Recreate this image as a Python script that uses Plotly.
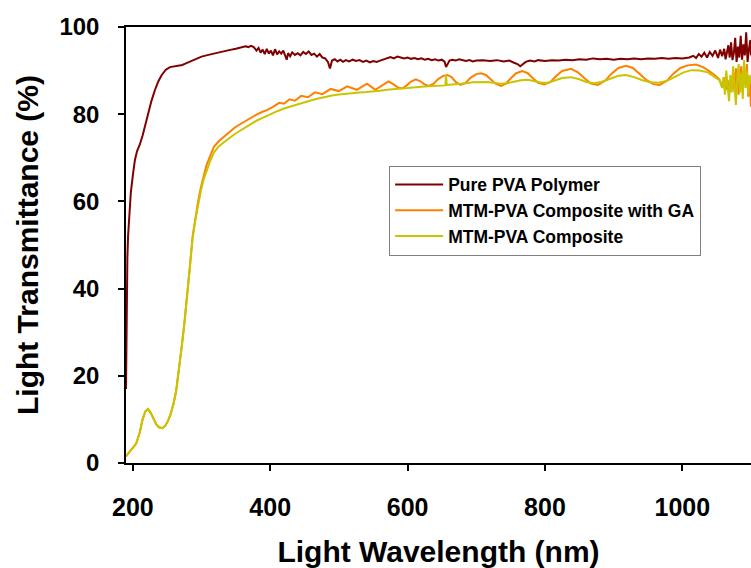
import plotly.graph_objects as go

# ---- Pure PVA polymer: wavelength (nm) and transmittance (%) ----
wl_pva = [190, 190.5, 191, 192, 193, 195, 197, 200, 203, 206, 210, 214, 218, 222, 227, 232, 237, 242,
          248, 254, 260, 266, 272, 278, 285, 292, 300, 310, 320, 330, 340, 350, 358, 364, 368, 372,
          376, 380, 383, 386, 389, 392, 395, 398, 401, 404, 407, 410, 413, 416, 419, 422, 424, 426,
          429, 432, 436, 440, 444, 448, 452, 456, 460, 464, 468, 472, 476, 480, 484, 487, 490, 494,
          498, 502, 506, 510, 515, 520, 525, 530, 535, 540, 545, 550, 555, 560, 565, 570, 575, 580,
          585, 590, 595, 600, 605, 610, 615, 620, 625, 630, 635, 640, 645, 650, 654, 656, 658, 661,
          665, 670, 675, 680, 685, 690, 695, 700, 710, 720, 730, 740, 748, 755, 760, 764, 768, 772,
          778, 785, 790, 800, 810, 820, 830, 840, 850, 860, 870, 880, 890, 900, 910, 920, 930, 940,
          950, 960, 970, 980, 990, 1000, 1010, 1016, 1020, 1024, 1028, 1032, 1036, 1040, 1044, 1048,
          1052, 1055, 1058, 1061, 1063, 1065, 1067, 1069, 1071, 1073, 1075, 1077, 1079, 1081, 1083,
          1085, 1087, 1089, 1091, 1093, 1095, 1097, 1099, 1100]
t_pva = [17, 30, 40, 47, 52, 57, 62, 66, 69.5, 71.5, 73, 75, 77.5, 80, 83, 85.5, 87.5, 89,
         90.2, 90.8, 91, 91.1, 91.3, 91.7, 92.2, 92.8, 93.2, 93.6, 94.0, 94.3, 94.7, 95.0, 95.3, 95.6, 95.4, 95.7,
         95.4, 94.6, 95.2, 94.1, 94.8, 93.8, 95.0, 93.9, 94.6, 93.5, 94.9, 93.7, 94.4, 93.9, 94.6, 93.2, 92.5, 94.0,
         93.3, 94.2, 93.6, 94.0, 93.5, 94.3, 93.8, 94.4, 93.6, 93.9, 93.2, 93.8, 93.0, 92.8, 92.0, 90.5, 92.3, 92.6,
         92.1, 92.5, 92.0, 92.4, 92.1, 92.5, 92.2, 92.4, 92.0, 92.3, 91.9, 92.2, 92.0, 92.3, 92.6, 92.9, 93.1, 92.8,
         93.2, 93.0, 92.8, 93.0, 92.7, 92.9, 92.6, 92.8, 92.5, 92.7, 92.4, 92.6, 92.3, 92.5, 92.0, 90.8, 91.5, 92.3,
         92.5, 92.3, 92.6, 92.4, 92.2, 92.4, 92.1, 92.3, 92.4, 92.2, 92.4, 92.1, 92.3, 91.8, 91.5, 91.0, 91.6, 92.0,
         92.3, 92.1, 92.4, 92.2, 92.4, 92.3, 92.5, 92.4, 92.6, 92.5, 92.8, 92.6, 92.7, 92.5, 92.7, 92.6, 92.8, 92.6,
         92.8, 92.7, 92.9, 92.7, 92.9, 92.8, 93.0, 93.4, 92.9, 93.8, 93.2, 94.1, 93.0, 94.3, 93.4, 94.6,
         92.9, 94.8, 93.3, 95.0, 92.6, 94.2, 95.8, 93.0, 96.5, 92.4, 94.0, 97.5, 92.0, 95.5, 93.0,
         98.0, 92.5, 96.0, 93.5, 98.8, 92.0, 95.0, 97.0, 93.5]

# ---- MTM-PVA composite with GA ----
wl_ga = [190, 195, 200, 205, 210, 214, 218, 222, 226, 230, 234, 238, 243, 247, 251, 255, 259, 263,
         267, 271, 275, 279, 283, 287, 291, 295, 299, 303, 307, 312, 318, 325, 332, 340, 348, 356,
         364, 372, 380, 388, 396, 404, 413, 420, 428, 436, 445, 455, 465, 476, 488, 500, 512, 526,
         541, 553, 563, 572, 578, 585, 592, 598, 605, 612, 618, 625, 631, 638, 645, 652, 658, 664,
         670, 677, 684, 692, 700, 707, 714, 721, 728, 736, 743, 750, 758, 767, 775, 782, 790, 799,
         808, 816, 825, 838, 848, 858, 867, 877, 887, 897, 907, 918, 928, 938, 948, 958, 967, 977,
         987, 997, 1008, 1020, 1030, 1038, 1047, 1054, 1058, 1061, 1063, 1066, 1068, 1070, 1072,
         1074, 1076, 1078, 1080, 1082, 1084, 1086, 1088, 1090, 1092, 1094, 1096, 1098, 1100]
t_ga = [1.5, 2.5, 3.5, 4.5, 7.0, 9.9, 11.8, 12.4, 11.5, 10.0, 8.9, 8.2, 8.0, 8.5, 9.6, 11.2, 13.5, 16.5,
        21.0, 26.5, 32.0, 38.0, 45.0, 52.0, 56.5, 60.0, 63.2, 66.0, 68.2, 70.2, 72.5, 73.8, 74.8, 75.9, 76.9, 77.7,
        78.5, 79.2, 79.9, 80.5, 81.0, 81.7, 82.6, 82.4, 83.4, 83.1, 84.2, 83.9, 85.0, 84.6, 85.8, 85.3, 86.4, 85.6,
        87.0, 85.6, 86.5, 87.5, 87.0, 86.2, 85.9, 86.5, 87.5, 88.0, 87.6, 86.8, 86.5, 87.0, 88.1, 88.8, 89.0, 88.5,
        87.4, 86.7, 87.1, 88.4, 89.2, 89.4, 89.0, 88.0, 87.0, 86.5, 87.0, 88.2, 89.4, 89.9, 89.4, 88.3, 87.2, 86.8,
        87.4, 88.7, 89.9, 90.4, 89.6, 88.2, 87.0, 86.7, 87.6, 89.3, 90.6, 91.1, 90.6, 89.2, 87.8, 86.9, 86.7, 87.6,
        89.3, 90.6, 91.2, 91.4, 90.8, 90.0, 89.0, 88.0, 86.5, 88.5, 85.5, 87.8, 84.4, 88.0, 86.0,
        89.5, 85.0, 90.5, 86.5, 84.5, 89.0, 91.0, 86.0, 90.0, 87.0, 91.5, 84.0, 88.5, 81.7]

# ---- MTM-PVA composite ----
wl_mtm = [190, 195, 200, 205, 210, 214, 218, 222, 226, 230, 234, 238, 243, 247, 251, 255, 259, 263,
          267, 271, 275, 279, 283, 287, 291, 295, 299, 303, 307, 312, 318, 325, 332, 340, 348, 356,
          364, 372, 380, 388, 396, 404, 412, 420, 430, 440, 450, 460, 470, 480, 490, 500, 510, 520,
          530, 540, 550, 560, 570, 580, 590, 600, 610, 620, 630, 640, 650, 655, 656, 657, 665, 675,
          685, 695, 705, 715, 725, 735, 745, 755, 765, 775, 785, 795, 805, 815, 825, 838, 850, 860,
          871, 882, 895, 907, 918, 930, 942, 953, 965, 977, 990, 1002, 1013, 1025, 1037, 1047, 1054,
          1058, 1060, 1062, 1064, 1066, 1068, 1070, 1072, 1074, 1076, 1078, 1080, 1082, 1084, 1086,
          1088, 1090, 1092, 1094, 1096, 1098, 1100]
t_mtm = [1.5, 2.5, 3.5, 4.5, 7.0, 9.9, 11.8, 12.4, 11.5, 10.0, 8.9, 8.2, 8.0, 8.5, 9.6, 11.2, 13.5, 16.5,
         21.0, 26.5, 32.0, 38.0, 45.0, 51.5, 55.8, 59.2, 62.4, 65.0, 67.0, 69.0, 71.2, 72.6, 73.5, 74.5, 75.4, 76.2,
         77.0, 77.8, 78.5, 79.1, 79.7, 80.3, 80.8, 81.3, 81.8, 82.3, 82.8, 83.2, 83.6, 84.0, 84.3, 84.5, 84.7, 84.9,
         85.0, 85.1, 85.2, 85.4, 85.6, 85.8, 85.9, 86.0, 86.2, 86.3, 86.4, 86.5, 86.6, 86.6, 89.0, 86.7, 86.8, 86.9,
         87.1, 87.3, 87.4, 87.4, 87.2, 87.0, 87.1, 87.4, 87.8, 87.9, 87.6, 87.2, 87.2, 87.7, 88.3, 88.5, 88.0, 87.4,
         87.1, 87.4, 88.2, 88.8, 89.0, 88.5, 87.8, 87.3, 87.2, 87.6, 88.6, 89.6, 90.1, 90.0, 89.6, 88.6, 87.8,
         86.0, 88.5, 84.5, 90.0, 86.5, 83.0, 89.0, 85.0, 91.0, 86.0, 82.1, 88.0, 91.5, 85.0, 89.5,
         83.5, 92.4, 86.0, 90.0, 84.5, 89.0, 87.0]

x_ticks = [200, 400, 600, 800, 1000]
y_ticks = [0, 20, 40, 60, 80, 100]

FONT = "Liberation Sans"

fig = go.Figure()
fig.add_trace(go.Scatter(x=wl_pva, y=t_pva, mode="lines", name="Pure PVA Polymer",
                         line=dict(color="#800000", width=2)))
fig.add_trace(go.Scatter(x=wl_ga, y=t_ga, mode="lines", name="MTM-PVA Composite with GA",
                         line=dict(color="#ff8000", width=2)))
fig.add_trace(go.Scatter(x=wl_mtm, y=t_mtm, mode="lines", name="MTM-PVA Composite",
                         line=dict(color="#c8c400", width=2)))

fig.update_layout(
    width=751, height=568,
    margin=dict(l=126, r=0, t=27, b=105),
    paper_bgcolor="white", plot_bgcolor="white",
    font=dict(family=FONT, color="black"),
    showlegend=True,
    legend=dict(
        x=0.421, y=0.682, xanchor="left", yanchor="top",
        bgcolor="white", bordercolor="#808080", borderwidth=1,
        font=dict(family=FONT, size=17.5, weight="bold", color="black"),
        tracegroupgap=0, itemwidth=48,
    ),
    xaxis=dict(
        range=[190, 1100], tickvals=x_ticks, ticktext=[str(v) for v in x_ticks],
        ticks="outside", ticklen=6, tickwidth=1.5, tickcolor="black",
        showline=True, linecolor="black", linewidth=1.5, mirror=True,
        showgrid=False, zeroline=False,
        tickfont=dict(family=FONT, size=25, weight="bold"),
        ticklabelstandoff=15,
        title=dict(text="Light Wavelength (nm)", standoff=21,
                   font=dict(family=FONT, size=30, weight="bold")),
    ),
    yaxis=dict(
        range=[0, 100], tickvals=y_ticks,
        ticks="outside", ticklen=6, tickwidth=1.5, tickcolor="black",
        showline=True, linecolor="black", linewidth=1.5,
        showgrid=False, zeroline=False,
        tickfont=dict(family=FONT, size=24, weight="bold"),
        ticklabelstandoff=14,
        title=dict(text="Light Transmittance (%)", standoff=12,
                   font=dict(family=FONT, size=30, weight="bold")),
    ),
)

fig.write_html("out.html")
